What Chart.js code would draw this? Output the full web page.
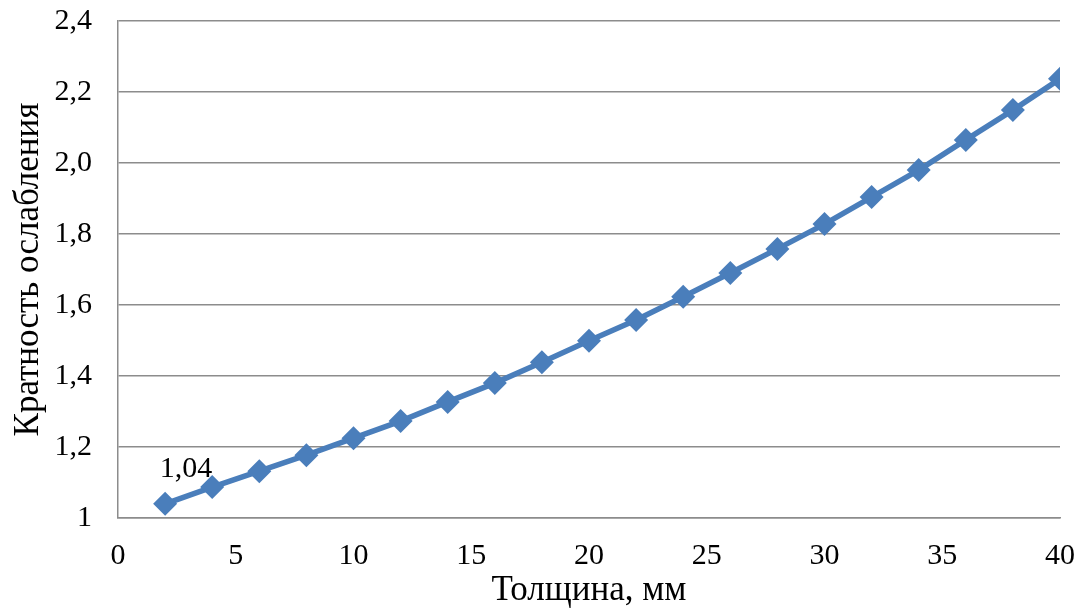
<!DOCTYPE html>
<html>
<head>
  <meta charset="utf-8">
  <title>Кратность ослабления</title>
  <script src="https://cdn.jsdelivr.net/npm/chart.js@4.4.0/dist/chart.umd.min.js"></script>
  <style>
    body { margin: 0; background: #fff; }
    #wrap { width: 1085px; height: 616px; }
  </style>
</head>
<body>
  <div id="wrap">
    <canvas id="myChart" width="1085" height="616"></canvas>
  </div>

  <script>
    // thickness, mm
    const thickness = [2, 4, 6, 8, 10, 12, 14, 16, 18, 20, 22, 24, 26, 28, 30, 32, 34, 36, 38, 40];
    // attenuation factor
    const attenuation = [1.04, 1.087, 1.132, 1.177, 1.225, 1.273, 1.327, 1.380, 1.439, 1.499,
                         1.558, 1.623, 1.690, 1.758, 1.828, 1.904, 1.980, 2.065, 2.149, 2.237];
    const labelledPoints = [0];   // only the first point carries a value label

    const xTitle = 'Толщина, мм';
    const yTitle = 'Кратность ослабления';

    const blue = '#4A7EBB';
    const grid = '#8c8c8c';
    const fontFam = '"Liberation Serif", "Times New Roman", serif';

    function fmt(v) {
      if (Math.abs(v - 1) < 1e-9) return '1';
      return v.toFixed(1).replace('.', ',');
    }

    // draws "1,04" above the first marker
    const pointLabels = {
      id: 'pointLabels',
      afterDatasetsDraw(chart) {
        const ctx = chart.ctx;
        const meta = chart.getDatasetMeta(0);
        ctx.save();
        ctx.font = '30px ' + fontFam;
        ctx.fillStyle = '#000';
        ctx.textAlign = 'center';
        ctx.textBaseline = 'middle';
        labelledPoints.forEach(i => {
          const el = meta.data[i];
          ctx.fillText(attenuation[i].toFixed(2).replace('.', ','), el.x + 21, el.y - 35);
        });
        ctx.restore();
      }
    };

    const ctx = document.getElementById('myChart').getContext('2d');
    const myChart = new Chart(ctx, {
      type: 'line',
      data: {
        datasets: [{
          data: thickness.map((t, i) => ({ x: t, y: attenuation[i] })),
          borderColor: blue,
          backgroundColor: blue,
          borderWidth: 5.5,
          pointStyle: 'rectRot',
          pointRadius: 12,
          pointBorderWidth: 0,
          tension: 0
        }]
      },
      options: {
        responsive: false,
        animation: false,
        layout: { padding: { top: 21, right: 25, left: 0, bottom: 0 } },
        plugins: {
          legend: { display: false },
          tooltip: { enabled: false }
        },
        scales: {
          x: {
            type: 'linear',
            min: 0,
            max: 40,
            ticks: { stepSize: 5, color: '#000', font: { family: fontFam, size: 30 }, padding: 20, maxRotation: 0 },
            grid: { display: false, drawTicks: false },
            border: { display: true, color: grid, width: 1.5 },
            title: { display: true, text: xTitle, color: '#000', font: { family: fontFam, size: 35 }, padding: { top: 0, bottom: 4 } },
            afterFit(scale) {
              scale.height = 98;
              scale.paddingLeft = 0;
              scale.paddingRight = 0;
            }
          },
          y: {
            min: 1,
            max: 2.4,
            ticks: { stepSize: 0.2, color: '#000', font: { family: fontFam, size: 30 }, padding: 26, callback: v => fmt(v) },
            grid: { color: grid, lineWidth: 1.5, drawTicks: false },
            border: { display: true, color: grid, width: 1.5 },
            title: { display: true, text: yTitle, color: '#000', font: { family: fontFam, size: 35 }, padding: { top: 8, bottom: 0 } },
            afterFit(scale) {
              scale.width = 118;
              scale.paddingTop = 0;
              scale.paddingBottom = 0;
            }
          }
        }
      },
      plugins: [pointLabels]
    });
  </script>
</body>
</html>
